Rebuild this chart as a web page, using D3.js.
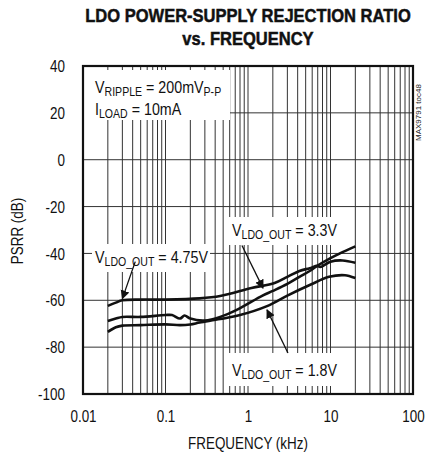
<!DOCTYPE html>
<html>
<head>
<meta charset="utf-8">
<script src="https://cdn.jsdelivr.net/npm/d3@7"></script>
<style>
  body { margin: 0; background: #fff; }
  text { font-family: "Liberation Sans", Arial, sans-serif; }
</style>
</head>
<body>
<svg id="chart" width="426" height="456"></svg>
<script>
// data (kHz, dB)
var f475 = [0.02, 0.025, 0.03, 0.05, 0.1, 0.26, 0.46, 1.1, 2.1, 3, 4.2, 5.6, 6.9, 7.5, 10, 14, 20];
var psrr475 = [-62.4, -61, -60, -59.7, -59.7, -59.2, -58.2, -54.8, -52.6, -50, -47.5, -46.3, -45.3, -45.8, -43.5, -43, -44];

var f33 = [0.02, 0.025, 0.03, 0.05, 0.1, 0.12, 0.15, 0.17, 0.2, 0.3, 0.46, 0.73, 1.5, 2, 3, 4.2, 5.6, 6.9, 10, 13, 20];
var psrr33 = [-68.8, -67.8, -67.1, -67.1, -66.3, -66.3, -67.8, -66.5, -67.8, -68.6, -67.1, -64.1, -58, -56, -53, -50, -47.5, -45.3, -42, -40, -37];

var f18 = [0.02, 0.025, 0.03, 0.05, 0.1, 0.15, 0.2, 0.26, 0.46, 0.8, 1.7, 3, 5.6, 9.6, 15, 20];
var psrr18 = [-73.5, -71.5, -70.8, -70.6, -70.3, -70.6, -70.3, -69.5, -68, -66.3, -62.5, -58, -53.5, -50, -49.3, -50.5];

var yTicks = [-100, -80, -60, -40, -20, 0, 20, 40];
var xTicks = [0.01, 0.1, 1, 10, 100];
var xTickLabels = ["0.01", "0.1", "1", "10", "100"];

var SX = 0.84; // squeeze text to look like a narrow face

var svg = d3.select("#chart");

var x = d3.scaleLog().domain([0.01, 100]).range([83, 413]);
var y = d3.scaleLinear().domain([-100, 40]).range([394, 66]);

function narrow(tx, ty, str, size, sx) {
  return svg.append("text").attr("transform", `translate(${tx},${ty}) scale(${sx || SX},1)`)
    .attr("font-size", size).attr("fill", "#111").text(str);
}

// titles
narrow(248, 22, "LDO POWER-SUPPLY REJECTION RATIO", 19, 0.87)
  .attr("text-anchor", "middle").attr("font-weight", "bold").attr("stroke", "#111").attr("stroke-width", 0.5);
narrow(248, 45, "vs. FREQUENCY", 19, 0.87)
  .attr("text-anchor", "middle").attr("font-weight", "bold").attr("stroke", "#111").attr("stroke-width", 0.5);

// grid
var minor = [];
for (var d = 0.01; d < 100; d *= 10) {
  for (var k = 1; k <= 9; k++) minor.push(d * k);
}
minor.push(100);
svg.append("g").selectAll("line").data(minor).enter().append("line")
  .attr("x1", d => x(d)).attr("x2", d => x(d))
  .attr("y1", y(40)).attr("y2", y(-100))
  .attr("stroke", "#333").attr("stroke-width", 1);
svg.append("g").selectAll("line").data(yTicks).enter().append("line")
  .attr("x1", x(0.01)).attr("x2", x(100))
  .attr("y1", d => y(d)).attr("y2", d => y(d))
  .attr("stroke", "#333").attr("stroke-width", 1);

// axes (labels only, frame drawn below)
var yAxis = svg.append("g").attr("transform", "translate(83,0)")
  .call(d3.axisLeft(y).tickValues(yTicks).tickSize(0).tickPadding(0).tickFormat(d => String(d)));
var xAxis = svg.append("g").attr("transform", "translate(0,394)")
  .call(d3.axisBottom(x).tickValues(xTicks).tickSize(0).tickPadding(0)
    .tickFormat((d, i) => xTickLabels[i]));
[yAxis, xAxis].forEach(function (a) {
  a.select(".domain").remove();
  a.selectAll("text").attr("font-size", 16).attr("fill", "#111")
    .style("font-family", '"Liberation Sans", Arial, sans-serif');
});
yAxis.selectAll("text").attr("x", null).attr("dy", "0.35em").attr("transform", `translate(-18,0) scale(${SX},1)`);
xAxis.selectAll("text").attr("y", null).attr("dy", null).attr("transform", `translate(0,28) scale(${SX},1)`);

narrow(248, 449, "FREQUENCY (kHz)", 16).attr("text-anchor", "middle");
svg.append("text").attr("transform", `translate(23,231) rotate(-90) scale(${SX},1)`).attr("text-anchor", "middle")
  .attr("font-size", 16).attr("fill", "#111").text("PSRR (dB)");

// label boxes (white, over grid)
function box(x0, y0, w, h) {
  svg.append("rect").attr("x", x0).attr("y", y0).attr("width", w).attr("height", h).attr("fill", "#fff");
}
box(84, 70, 146, 50);
box(92, 244, 118, 28);
box(228, 217, 122, 28);
box(228, 353, 120, 33);

// curves
var line = d3.line().x(d => x(d[0])).y(d => y(d[1])).curve(d3.curveCatmullRom);
[[f475, psrr475], [f33, psrr33], [f18, psrr18]].forEach(function (s) {
  svg.append("path").datum(d3.zip(s[0], s[1]))
    .attr("d", line).attr("fill", "none").attr("stroke", "#111").attr("stroke-width", 2.6);
});

// frame
svg.append("rect").attr("x", 83).attr("y", 66).attr("width", 330).attr("height", 328)
  .attr("fill", "none").attr("stroke", "#111").attr("stroke-width", 2.2);

// text with subscripts
function subText(x0, y0, parts, size) {
  var t = svg.append("text").attr("transform", `translate(${x0},${y0}) scale(${SX},1)`)
    .attr("font-size", size).attr("fill", "#111");
  parts.forEach(function (p) {
    var ts = t.append("tspan").text(p[0]);
    if (p[1]) ts.attr("font-size", size * 0.74).attr("dy", 3);
    else if (p[2]) ts.attr("dy", -3);
  });
  return t;
}
subText(95, 93, [["V"], ["RIPPLE", 1], [" = 200mV", 0, 1], ["P-P", 1]], 17);
subText(95, 115, [["I"], ["LOAD", 1], [" = 10mA", 0, 1]], 17);
subText(95, 263, [["V"], ["LDO_OUT", 1], [" = 4.75V", 0, 1]], 17);
subText(232, 236, [["V"], ["LDO_OUT", 1], [" = 3.3V", 0, 1]], 17);
subText(232, 376, [["V"], ["LDO_OUT", 1], [" = 1.8V", 0, 1]], 17);

// arrows
svg.append("defs").append("marker").attr("id", "ah").attr("viewBox", "0 0 10 10")
  .attr("refX", 9).attr("refY", 5).attr("markerWidth", 9).attr("markerHeight", 12)
  .attr("markerUnits", "userSpaceOnUse").attr("orient", "auto")
  .append("path").attr("d", "M0,0 L10,5 L0,10 Z").attr("fill", "#111");
function arrow(fromF, fromDb, toF, toDb) {
  svg.append("line").attr("x1", x(fromF)).attr("y1", y(fromDb)).attr("x2", x(toF)).attr("y2", y(toDb))
    .attr("stroke", "#111").attr("stroke-width", 1.3).attr("marker-end", "url(#ah)");
}
arrow(0.043, -43.5, 0.03, -59.3);
arrow(0.845, -36.6, 1.52, -54.8);
arrow(3.05, -82.5, 1.7, -64.1);

// part number tag
svg.append("text").attr("transform", "translate(421,141) rotate(-90)")
  .attr("font-size", 8).attr("fill", "#222").text("MAX9791 toc48");
</script>
</body>
</html>
